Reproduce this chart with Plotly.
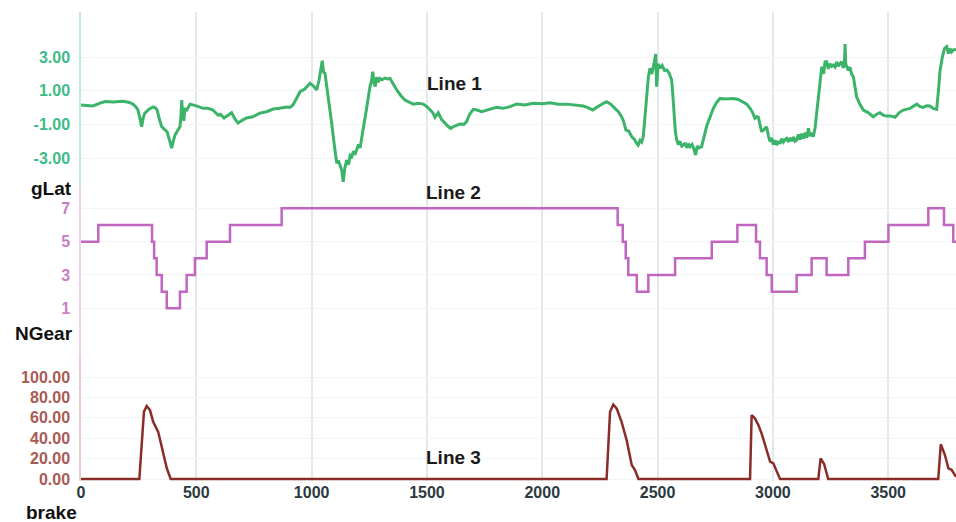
import plotly.graph_objects as go

# ---------------- data ----------------
glat_x = [
    0, 25, 52, 80, 104, 140, 182, 210, 226, 240,
    247, 255, 263, 270, 277, 295, 312, 322, 330, 340,
    350, 362, 373, 383, 393, 400, 408, 418, 429, 433,
    437, 440, 442, 446, 450, 458, 473, 500, 529, 550,
    572, 594, 605, 620, 635, 653, 668, 681, 700, 718,
    745, 776, 805, 833, 860, 892, 906, 919, 935, 950,
    970, 993, 1010, 1022, 1032, 1039, 1046, 1052, 1058, 1065,
    1072, 1080, 1087, 1098, 1109, 1116, 1123, 1130, 1137, 1144,
    1152, 1160, 1167, 1174, 1181, 1188, 1195, 1203, 1210, 1217,
    1228, 1239, 1246, 1253, 1260, 1265, 1270, 1276, 1282, 1289,
    1296, 1305, 1318, 1330, 1340, 1355, 1369, 1387, 1405, 1425,
    1441, 1462, 1484, 1500, 1513, 1525, 1535, 1542, 1549, 1563,
    1578, 1590, 1603, 1620, 1643, 1660, 1672, 1685, 1701, 1718,
    1737, 1770, 1802, 1830, 1860, 1889, 1925, 1961, 2000, 2034,
    2070, 2106, 2140, 2178, 2200, 2219, 2235, 2250, 2265, 2279,
    2297, 2315, 2330, 2344, 2352, 2363, 2375, 2388, 2400, 2408,
    2416, 2424, 2431, 2438, 2445, 2453, 2460, 2467, 2475, 2485,
    2492, 2496, 2503, 2511, 2520, 2530, 2540, 2550, 2561, 2566,
    2571, 2577, 2583, 2590, 2597, 2605, 2612, 2620, 2627, 2634,
    2641, 2650, 2657, 2665, 2672, 2680, 2691, 2698, 2706, 2713,
    2720, 2730, 2742, 2756, 2771, 2790, 2814, 2828, 2850, 2872,
    2887, 2901, 2912, 2922, 2930, 2937, 2944, 2951, 2962, 2973,
    2981, 2988, 2995, 3002, 3009, 3016, 3024, 3031, 3038, 3046,
    3053, 3060, 3067, 3075, 3082, 3089, 3096, 3103, 3111, 3118,
    3125, 3132, 3140, 3147, 3154, 3161, 3168, 3175, 3183, 3190,
    3200, 3212, 3220, 3226, 3233, 3240, 3248, 3255, 3262, 3270,
    3277, 3284, 3291, 3298, 3305, 3310, 3313, 3316, 3320, 3327,
    3334, 3341, 3349, 3356, 3363, 3377, 3392, 3413, 3435, 3450,
    3464, 3478, 3493, 3510, 3530, 3548, 3566, 3595, 3624, 3638,
    3652, 3666, 3681, 3695, 3710, 3718, 3725, 3735, 3744, 3754,
    3761, 3768, 3775, 3782, 3794,
]
glat_y = [
    0.15, 0.12, 0.09, 0.25, 0.35, 0.33, 0.37, 0.30, 0.20, 0.00,
    -0.15, -0.60, -1.14, -0.60, -0.33, -0.10, 0.03, -0.02, -0.15, -0.70,
    -1.14, -1.30, -1.44, -1.90, -2.41, -2.00, -1.63, -1.40, -1.14, -0.60,
    0.44, -0.70, -0.20, -0.80, -0.10, -0.15, 0.20, 0.10, -0.05, -0.05,
    -0.15, -0.45, -0.40, -0.62, -0.50, -0.31, -0.70, -0.92, -0.75, -0.62,
    -0.55, -0.33, -0.25, -0.09, -0.05, 0.03, 0.00, 0.15, 0.55, 0.94,
    1.10, 1.44, 1.25, 1.04, 1.60, 2.23, 2.78, 2.10, 2.03, 1.30,
    0.64, -0.10, -0.94, -2.20, -3.32, -3.15, -3.42, -3.70, -4.41, -3.60,
    -3.12, -3.40, -2.85, -2.92, -2.60, -2.80, -2.53, -2.20, -2.40, -1.74,
    -0.90, 0.00, 0.70, 1.24, 1.60, 2.13, 1.50, 1.24, 1.80, 1.50,
    1.73, 1.65, 1.75, 1.70, 1.73, 1.35, 1.04, 0.70, 0.44, 0.30,
    0.20, 0.25, 0.20, 0.05, -0.15, -0.30, -0.58, -0.40, -0.31, -0.70,
    -0.94, -1.10, -1.24, -1.10, -0.98, -1.00, -0.84, -0.40, -0.11, -0.15,
    -0.25, -0.10, 0.01, -0.05, 0.05, 0.20, 0.15, 0.25, 0.22, 0.28,
    0.20, 0.20, 0.15, 0.09, -0.02, -0.15, 0.00, 0.15, 0.25, 0.34,
    0.20, -0.05, -0.25, -0.55, -0.80, -1.34, -1.40, -1.74, -1.90, -2.10,
    -2.23, -1.95, -2.05, -1.74, -0.70, 0.64, 1.80, 2.33, 2.00, 2.62,
    3.18, 1.24, 2.60, 2.33, 2.50, 2.20, 2.23, 2.05, 1.63, 0.80,
    -0.35, -1.40, -1.93, -2.20, -2.00, -2.30, -2.23, -2.10, -2.40, -2.15,
    -2.33, -2.20, -2.45, -2.82, -2.30, -2.40, -2.33, -1.90, -1.34, -1.10,
    -0.84, -0.50, -0.05, 0.30, 0.54, 0.50, 0.54, 0.54, 0.48, 0.34,
    0.20, -0.05, -0.30, -0.64, -0.55, -0.58, -1.00, -1.44, -1.30, -1.14,
    -1.70, -2.03, -1.80, -2.20, -1.95, -2.23, -2.00, -2.15, -1.85, -2.05,
    -1.90, -1.83, -2.05, -1.80, -2.00, -1.75, -2.00, -1.93, -1.60, -1.90,
    -1.55, -1.85, -1.50, -1.80, -1.24, -1.70, -1.50, -1.74, -1.20, -0.35,
    1.00, 2.43, 2.00, 2.70, 2.72, 2.30, 2.60, 2.45, 2.52, 2.40,
    2.70, 2.45, 2.60, 2.72, 2.35, 2.60, 3.77, 2.60, 2.43, 2.20,
    2.40, 2.00, 1.83, 1.20, 0.64, 0.20, -0.15, -0.30, -0.55, -0.40,
    -0.31, -0.45, -0.51, -0.50, -0.58, -0.30, -0.15, -0.05, 0.20, 0.05,
    0.01, 0.10, 0.09, -0.05, -0.11, 1.00, 2.23, 3.00, 3.50, 3.61,
    3.20, 3.50, 3.30, 3.42, 3.45,
]

gear_x = [0, 75, 308, 317, 328, 350, 372, 429, 458, 494,
          545, 646, 870, 2327, 2349, 2362, 2373, 2410, 2460, 2576,
          2735, 2846, 2927, 2944, 2973, 2995, 3103, 3168, 3233, 3327,
          3399, 3501, 3674, 3742, 3782, 3794]
gear_y = [5, 6, 5, 4, 3, 2, 1, 2, 3, 4,
          5, 6, 7, 6, 5, 4, 3, 2, 3, 4,
          5, 6, 5, 4, 3, 2, 3, 4, 3, 4,
          5, 6, 7, 6, 5, 5]

brake_x = [0, 253, 273, 285, 299, 313, 335, 350, 364, 372,
           389, 2279, 2294, 2308, 2323, 2344, 2366, 2388, 2402, 2417,
           2901, 2908, 2922, 2937, 2951, 2973, 2988, 3002, 3016, 3031,
           3197, 3207, 3222, 3240, 3717, 3728, 3746, 3761, 3775, 3794]
brake_y = [0, 0, 66, 71.6, 67.6, 56, 46, 31.7, 15.4, 10.5,
           0, 0, 66, 73, 69, 56, 38, 13.7, 8.8, 0,
           0, 62.7, 59.5, 53, 44.8, 28.4, 17, 15.4, 7, 0,
           0, 20.3, 14.7, 0, 0, 34, 23.5, 10.5, 9, 2]

x_ticks = [0, 500, 1000, 1500, 2000, 2500, 3000, 3500]
glat_ticks = [3, 1, -1, -3]
gear_ticks = [7, 5, 3, 1]
brake_ticks = [0, 20, 40, 60, 80, 100]

series_names = ["gLat", "NGear", "brake"]
line_labels = ["Line 1", "Line 2", "Line 3"]

assert len(glat_x) == len(glat_y)
assert len(gear_x) == len(gear_y)
assert len(brake_x) == len(brake_y)

# ---------------- layout geometry (pixels) ----------------
W, H = 956, 522
LEFT, TOP, BOT = 81, 12, 481
PH = BOT - TOP
B1, B2 = 185, 355          # pixel boundaries between the panels


def frac(py):
    return (BOT - py) / PH


FONT = "Liberation Sans, Arial, Helvetica, sans-serif"
GREEN, GREEN_T, GREEN_L = "#3bb46a", "#3dbb88", "#c2eadb"
PURP, PURP_T, PURP_L = "#c065c0", "#c97ec6", "#f2d0ef"
BROWN, BROWN_T, BROWN_L = "#8a2d28", "#a85a54", "#ecccc8"

fig = go.Figure()
fig.add_trace(go.Scatter(x=glat_x, y=glat_y, mode="lines", xaxis="x", yaxis="y",
                         line=dict(color=GREEN, width=3)))
fig.add_trace(go.Scatter(x=gear_x, y=gear_y, mode="lines", xaxis="x", yaxis="y2",
                         line=dict(color=PURP, width=2.5, shape="hv")))
fig.add_trace(go.Scatter(x=brake_x, y=brake_y, mode="lines", xaxis="x", yaxis="y3",
                         line=dict(color=BROWN, width=2.5)))

common_y = dict(showgrid=True, gridcolor="#f1f5f7", gridwidth=1, zeroline=False,
                showline=True, linewidth=1.5, anchor="x", ticks="",
                ticklabelstandoff=6, fixedrange=True)

fig.update_layout(
    width=W, height=H,
    margin=dict(l=LEFT, r=0, t=TOP, b=H - BOT),
    paper_bgcolor="white", plot_bgcolor="white",
    showlegend=False,
    xaxis=dict(range=[0, 3794], tickvals=x_ticks, ticktext=[str(v) for v in x_ticks],
               showgrid=True, gridcolor="#e2e9ee", gridwidth=1.5, zeroline=False,
               showline=False, anchor="y3", ticks="", fixedrange=True,
               tickfont=dict(family=FONT, size=16, color="#2c3a40", weight="bold")),
    yaxis=dict(domain=[frac(B1), 1],
               range=[-3 - (B1 - 158) / 16.83, 3 + (57 - TOP) / 16.83],
               tickvals=glat_ticks, ticktext=[f"{v:.2f}" for v in glat_ticks],
               linecolor=GREEN_L,
               tickfont=dict(family=FONT, size=16, color=GREEN_T, weight="bold"),
               **common_y),
    yaxis2=dict(domain=[frac(B2), frac(B1)],
                range=[1 - (B2 - 308.3) / 16.67, 7 + (208.3 - B1) / 16.67],
                tickvals=gear_ticks, ticktext=[str(v) for v in gear_ticks],
                linecolor=PURP_L,
                tickfont=dict(family=FONT, size=16, color=PURP_T, weight="bold"),
                **common_y),
    yaxis3=dict(domain=[0, frac(B2)],
                range=[(479 - BOT) / 1.02, (479 - B2) / 1.02],
                tickvals=brake_ticks, ticktext=[f"{v:.2f}" for v in brake_ticks],
                linecolor=BROWN_L,
                tickfont=dict(family=FONT, size=16, color=BROWN_T, weight="bold"),
                **common_y),
)


def px_x(px):
    return (px - LEFT) / (W - LEFT)


name_pos = [(51, 188), (44, 333), (51, 512)]
for name, (px, py) in zip(series_names, name_pos):
    fig.add_annotation(text=name, xref="paper", yref="paper", x=px_x(px), y=frac(py),
                       xanchor="center", yanchor="middle", showarrow=False,
                       font=dict(family=FONT, size=19, color="#111111", weight="bold"))

label_pos = [(454, 83), (453, 192), (453, 457)]
for name, (px, py) in zip(line_labels, label_pos):
    fig.add_annotation(text=name, xref="paper", yref="paper", x=px_x(px), y=frac(py),
                       xanchor="center", yanchor="middle", showarrow=False,
                       font=dict(family=FONT, size=19, color="#1a1a1a", weight="bold"))

fig.write_html(
    "out.html",
    config={"displayModeBar": False},
    post_script="document.body.style.margin='0';document.body.style.overflow='hidden';",
)
